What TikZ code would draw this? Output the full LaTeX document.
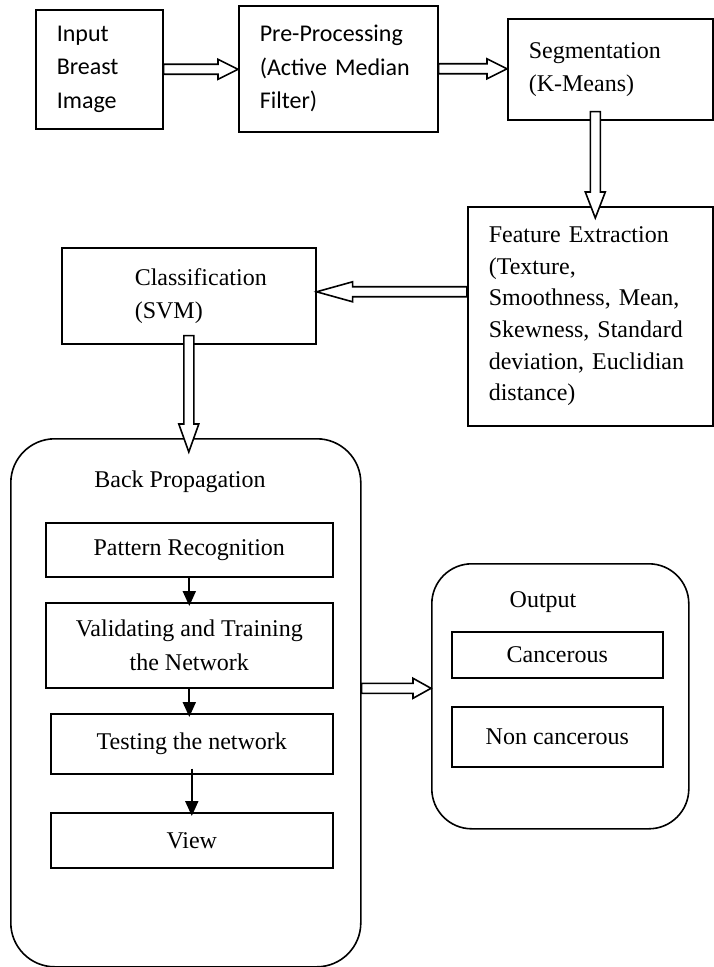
\documentclass[tikz,border=0pt]{standalone}
\usepackage{fontspec}
\setmainfont{Liberation Serif}
\newfontfamily\calibrifont{Carlito}
\usetikzlibrary{calc,arrows.meta}

\tikzset{
  box/.style={draw, line width=0.8pt, rectangle, anchor=north west, inner ysep=2pt},
  calbox/.style={box, align=left, inner xsep=10.5pt, font=\calibrifont\fontsize{12}{16.75}\selectfont},
  serbox/.style={box, align=left, inner xsep=10.5pt, font=\fontsize{12}{16.5}\selectfont},
  subbox/.style={box, align=center, font=\fontsize{12}{17}\selectfont},
  group/.style={draw, line width=0.8pt, rectangle, rounded corners=#1, anchor=north west},
  title/.style={anchor=base, inner sep=0pt, font=\fontsize{12}{14}\selectfont},
  thinarrow/.style={draw, line width=1pt, -{Triangle[length=7.5pt,width=6.5pt]}, shorten >=-2pt},
  fatarrow/.default=10pt,
  fatarrow/.style={draw, fill=white, line width=0.8pt, to path={
    let \p1=($(\tikztotarget)!#1!(\tikztostart)$) in
    ($(\tikztostart)!2.5pt!90:(\tikztotarget)$) -- ($(\p1)!2.5pt!90:(\tikztotarget)$)
    -- ($(\p1)!5pt!90:(\tikztotarget)$) -- (\tikztotarget)
    -- ($(\p1)!5pt!-90:(\tikztotarget)$) -- ($(\p1)!2.5pt!-90:(\tikztotarget)$)
    -- ($(\tikztostart)!2.5pt!-90:(\tikztotarget)$) -- cycle}}
}

\begin{document}
\begin{tikzpicture}[x=0.5pt,y=-0.5pt]
\useasboundingbox (0,0) rectangle (713,967);

% top row
\node[calbox, text width=42.5pt, minimum height=59.5pt] (in) at (35,9) {Input\\Breast\\Image};
\node[calbox, text width=78.5pt, minimum height=63pt] (pre) at (238,5) {Pre-Processing\\(Active Median\\Filter)};
\node[serbox, text width=81.5pt, minimum height=50.5pt] (seg) at (507,18) {Segmentation\\(K-Means)};

% features and classifier
\node[serbox, text width=101.5pt, minimum height=109.5pt, font=\fontsize{12}{15.8}\selectfont] (feat) at (467,206)
  {Feature Extraction\\(Texture,\\Smoothness, Mean,\\Skewness, Standard\\deviation, Euclidian\\distance)};
\node[serbox, minimum width=127pt, minimum height=48pt] (cls) at (61,247)
  {\hspace*{12pt}Classification\\\hspace*{12pt}(SVM)};

% back propagation block
\node[group=22pt, minimum width=175pt, minimum height=264pt] (bp) at (10,438) {};
\node[title] (bptitle) at (180,487) {Back Propagation};
\node[subbox, minimum width=143.5pt, minimum height=27pt] (pat) at (45,522) {Pattern Recognition};
\node[subbox, minimum width=143.5pt, minimum height=42.5pt] (val) at (45,602) {Validating and Training\\the Network};
\node[subbox, minimum width=141pt, minimum height=30pt] (test) at (50,713) {Testing the network};
\node[subbox, minimum width=141pt, minimum height=27.5pt] (view) at (50,812) {View};

% output block
\node[group=20pt, minimum width=128.5pt, minimum height=132.5pt] (out) at (431,563) {};
\node[title] (outtitle) at (543,607) {Output};
\node[subbox, minimum width=105.5pt, minimum height=23pt] (canc) at (451,631) {Cancerous};
\node[subbox, minimum width=105.5pt, minimum height=30pt] (noncanc) at (451,706) {Non cancerous};

% arrows
\coordinate (clsin) at ([yshift=2pt]cls.east);
\coordinate (outin) at ([yshift=4pt]out.west);
\draw[fatarrow] (in.east) to (in.east -| pre.west);
\draw[fatarrow] (pre.east) to (pre.east -| seg.west);
\draw[fatarrow=13pt] ([xshift=-7.5pt,yshift=4.5pt]seg.south) to ([xshift=-7.5pt,yshift=-6pt]seg.south |- feat.north);
\draw[fatarrow=18pt] (feat.west |- clsin) to (clsin);
\draw[fatarrow=14pt] ([yshift=4.5pt]cls.south) to ([yshift=-7pt]cls.south |- bp.north);
\draw[fatarrow=9pt] (bp.east |- outin) to (outin);

\draw[thinarrow] (pat) -- (val);
\draw[thinarrow] (val.south) -- (val.south |- test.north);
\draw[thinarrow] ([yshift=3pt]test.south) -- (test.south |- view.north);
\end{tikzpicture}
\end{document}
